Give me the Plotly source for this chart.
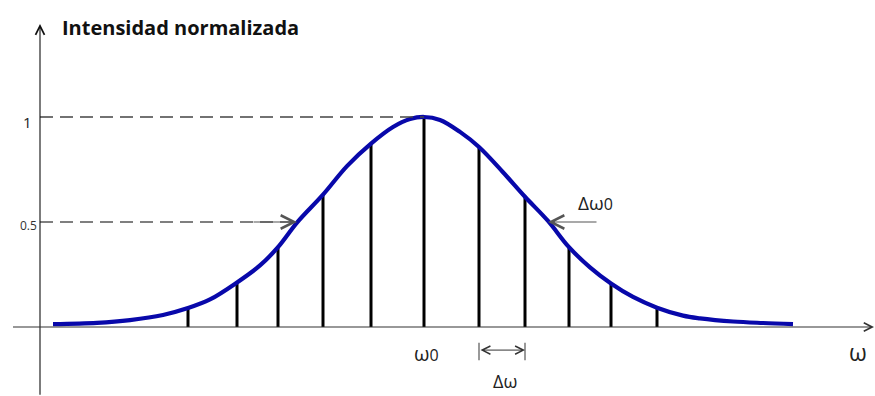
import plotly.graph_objects as go

# Frequency axis in units of (omega - omega0); intensity normalised to the peak
curve_omega = [-7.42, -6.54, -5.88, -5.22, -4.72, -4.28, -3.74, -3.28, -2.92, -2.54,
               -2.02, -1.54, -1.06, -0.62, -0.28, 0.0, 0.32, 0.72, 1.10, 1.58,
               2.02, 2.48, 2.90, 3.32, 3.74, 4.18, 4.66, 5.18, 5.52, 6.18, 6.78, 7.38]
curve_intensity = [0.014, 0.020, 0.033, 0.057, 0.090, 0.131, 0.212, 0.293, 0.380, 0.497,
                   0.630, 0.766, 0.873, 0.952, 0.990, 1.0, 0.986, 0.929, 0.857, 0.737,
                   0.620, 0.505, 0.380, 0.284, 0.207, 0.143, 0.092, 0.054, 0.041, 0.026,
                   0.019, 0.014]

# Discrete spectral components (sticks)
stick_omega = [-4.72, -3.74, -2.92, -2.02, -1.06, 0.0, 1.10, 2.02, 2.90, 3.74, 4.66]
stick_intensity = [0.090, 0.210, 0.378, 0.628, 0.870, 1.0, 0.855, 0.618, 0.378, 0.205, 0.092]

# Reference levels on the intensity axis
tick_values = [1.0, 0.5]
tick_labels = ["1", "0.5"]

# Half-maximum crossings and the spacing between adjacent components
half_left = -2.54
half_right = 2.48
spacing_start = 1.10
spacing_end = 2.02

X_RANGE = [-8.48, 9.02]
Y_RANGE = [-0.3286, 1.557]
YAXIS_AT = -7.68

fig = go.Figure()

# sticks
sx, sy = [], []
for w, v in zip(stick_omega, stick_intensity):
    sx += [w, w, None]
    sy += [0, v, None]
fig.add_trace(go.Scatter(x=sx, y=sy, mode="lines",
                         line=dict(color="#000000", width=3), hoverinfo="skip"))

# envelope
fig.add_trace(go.Scatter(x=curve_omega, y=curve_intensity, mode="lines",
                         line=dict(color="#0808aa", width=4.2, shape="spline", smoothing=1.0),
                         hoverinfo="skip"))

shapes = []
# dashed level line at the peak
shapes.append(dict(type="line", xref="x", yref="y", x0=YAXIS_AT, x1=0.0,
                   y0=tick_values[0], y1=tick_values[0],
                   line=dict(color="#444444", width=1.3, dash="13px,7px")))
# dashed half-maximum line
shapes.append(dict(type="line", xref="x", yref="y", x0=YAXIS_AT, x1=half_left - 0.05,
                   y0=tick_values[1], y1=tick_values[1],
                   line=dict(color="#555555", width=1.3, dash="13px,7px")))
# end markers of the spacing bracket
for w in (spacing_start, spacing_end):
    shapes.append(dict(type="line", xref="x", yref="y", x0=w, x1=w, y0=-0.075, y1=-0.158,
                       line=dict(color="#555555", width=1.2)))

annotations = []
# axes drawn as arrows
annotations.append(dict(x=YAXIS_AT, y=1.443, ax=YAXIS_AT, ay=-0.33, xref="x", yref="y",
                        axref="x", ayref="y", text="", showarrow=True, arrowhead=5,
                        arrowsize=1.6, arrowwidth=1.1, arrowcolor="#111111"))
annotations.append(dict(x=9.0, y=0, ax=-8.25, ay=0, xref="x", yref="y",
                        axref="x", ayref="y", text="", showarrow=True, arrowhead=5,
                        arrowsize=1.5, arrowwidth=1.1, arrowcolor="#333333"))
# half-maximum arrows
annotations.append(dict(x=half_left, y=tick_values[1], ax=half_left - 0.9, ay=tick_values[1],
                        xref="x", yref="y", axref="x", ayref="y", text="", showarrow=True,
                        arrowhead=5, arrowsize=2.4, arrowwidth=1.1, arrowcolor="#555555"))
annotations.append(dict(x=half_right, y=tick_values[1], ax=half_right + 1.0, ay=tick_values[1],
                        xref="x", yref="y", axref="x", ayref="y", text="", showarrow=True,
                        arrowhead=5, arrowsize=2.4, arrowwidth=1.1, arrowcolor="#555555"))
# spacing double arrow
annotations.append(dict(x=spacing_end, y=-0.11, ax=spacing_start, ay=-0.11,
                        xref="x", yref="y", axref="x", ayref="y", text="", showarrow=True,
                        arrowhead=5, startarrowhead=5, arrowside="end+start",
                        arrowsize=1.6, startarrowsize=1.6, arrowwidth=1.0,
                        arrowcolor="#333333"))

font = "Open Sans, Noto Sans, sans-serif"
annotations.append(dict(x=-7.28, y=1.424, xref="x", yref="y", text="<b>Intensidad normalizada</b>",
                        showarrow=False, xanchor="left", yanchor="middle",
                        font=dict(family=font, size=20, color="#111111")))
annotations.append(dict(x=YAXIS_AT - 0.12, y=tick_values[0], xref="x", yref="y", text=tick_labels[0],
                        showarrow=False, xanchor="right", yanchor="middle", yshift=-5,
                        font=dict(family=font, size=15, color="#222222")))
annotations.append(dict(x=YAXIS_AT - 0.02, y=tick_values[1], xref="x", yref="y", text=tick_labels[1],
                        showarrow=False, xanchor="right", yanchor="middle", yshift=-4,
                        font=dict(family=font, size=12, color="#333333")))
annotations.append(dict(x=0.05, y=-0.125, xref="x", yref="y",
                        text="ω<span style='font-size:16px'>0</span>",
                        showarrow=False, xanchor="center", yanchor="middle",
                        font=dict(family=font, size=20, color="#222222")))
annotations.append(dict(x=(spacing_start + spacing_end) / 2 + 0.06, y=-0.255, xref="x", yref="y",
                        text="Δω", showarrow=False, xanchor="center", yanchor="middle",
                        font=dict(family=font, size=18, color="#222222")))
annotations.append(dict(x=3.04, y=0.589, xref="x", yref="y",
                        text="Δω<span style='font-size:16px'>0</span>",
                        showarrow=False, xanchor="left", yanchor="middle",
                        font=dict(family=font, size=19, color="#222222")))
annotations.append(dict(x=8.68, y=-0.12, xref="x", yref="y", text="ω",
                        showarrow=False, xanchor="center", yanchor="middle",
                        font=dict(family=font, size=23, color="#222222")))

fig.update_layout(
    width=875, height=396,
    margin=dict(l=0, r=0, t=0, b=0),
    paper_bgcolor="white", plot_bgcolor="white",
    showlegend=False,
    xaxis=dict(range=X_RANGE, visible=False, fixedrange=True),
    yaxis=dict(range=Y_RANGE, visible=False, fixedrange=True),
    shapes=shapes, annotations=annotations,
)

fig.write_html("out.html")
